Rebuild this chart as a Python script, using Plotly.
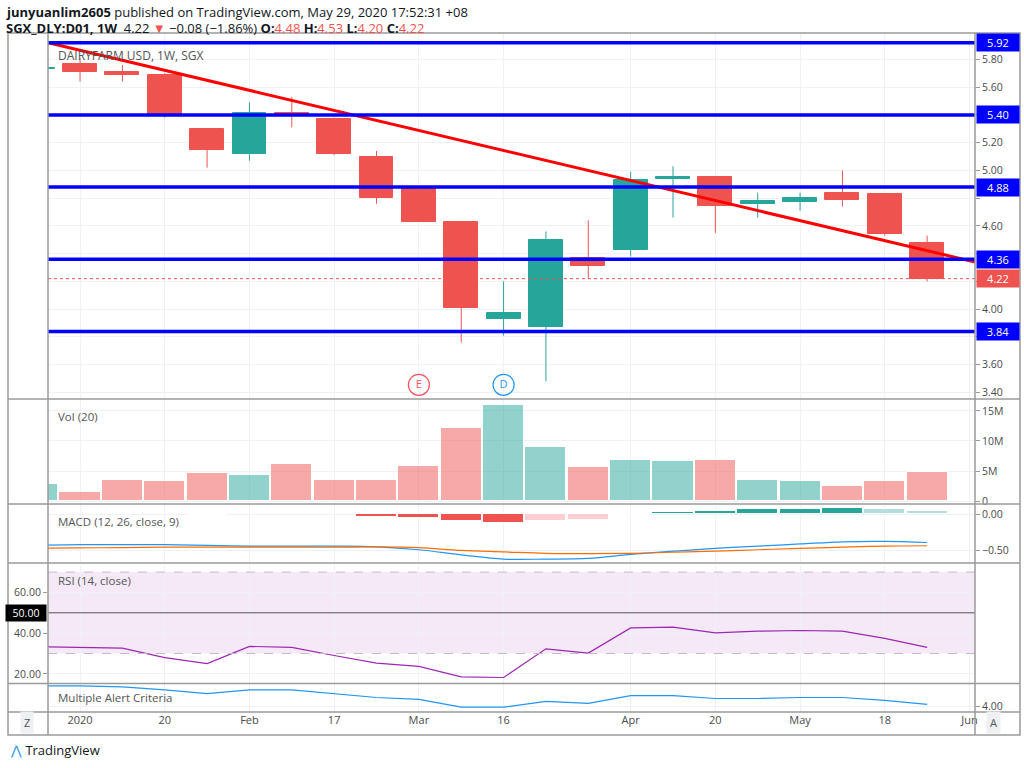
import plotly.graph_objects as go

# ---------------- data ----------------
idx = list(range(22))
opens  = [5.73,5.77,5.71,5.69,5.30,5.12,5.41,5.37,5.10,4.88,4.63,3.93,3.87,4.37,4.43,4.94,4.95,4.76,4.77,4.84,4.83,4.48]
highs  = [5.74,5.81,5.76,5.70,5.30,5.49,5.53,5.38,5.14,4.88,4.63,4.20,4.56,4.64,4.99,5.03,4.95,4.84,4.84,5.00,4.83,4.53]
lows   = [5.73,5.64,5.64,5.38,5.02,5.07,5.31,5.11,4.76,4.63,3.76,3.81,3.48,4.22,4.38,4.66,4.55,4.66,4.71,4.74,4.53,4.20]
closes = [5.74,5.71,5.69,5.40,5.15,5.41,5.40,5.12,4.80,4.63,4.01,3.97,4.50,4.31,4.93,4.95,4.74,4.78,4.80,4.79,4.54,4.22]
volume = [2.9,1.6,3.6,3.3,4.7,4.3,6.2,3.6,3.6,5.9,12.2,15.9,9.0,5.7,6.9,6.7,6.9,3.6,3.3,2.6,3.3,4.8]  # millions
macd_hist = [0.012,0.01,0.02,0.005,-0.01,0.01,0.01,0.005,-0.03,-0.05,-0.095,-0.12,-0.09,-0.08,-0.01,0.036,0.05,0.068,0.08,0.085,0.07,0.04]
macd_line = [-0.43,-0.42,-0.42,-0.42,-0.43,-0.44,-0.44,-0.44,-0.45,-0.49,-0.56,-0.62,-0.62,-0.61,-0.555,-0.51,-0.47,-0.44,-0.41,-0.38,-0.375,-0.39]
signal_line = [-0.47,-0.465,-0.46,-0.455,-0.455,-0.455,-0.455,-0.455,-0.45,-0.46,-0.50,-0.52,-0.54,-0.545,-0.54,-0.525,-0.51,-0.49,-0.47,-0.455,-0.44,-0.435]
rsi = [33.4,33.0,32.6,28.0,25.0,33.5,33.0,29.0,25.3,23.7,18.5,18.2,32.3,30.2,42.6,43.0,40.1,41.0,41.3,41.0,37.4,33.0]
alert = [6.1,6.1,6.0,5.7,5.3,5.7,5.7,5.3,4.9,4.7,3.9,3.9,4.5,4.3,5.1,5.1,4.8,4.8,4.9,4.9,4.6,4.2]
support_levels = [5.92,5.40,4.88,4.36,3.84]
last_price = 4.22
trend_x = [0.244, 22.13]
trend_y = [5.92, 4.34]
tick_pos = [1,3,5,7,9,11,14,16,18,20,22]
tick_text = ["2020","20","Feb","17","Mar","16","Apr","20","May","18","Jun"]
price_ticks = [3.40,3.60,3.80,4.00,4.20,4.40,4.60,4.80,5.00,5.20,5.40,5.60,5.80]
event_x = [9, 11]
event_y = [3.455, 3.455]
event_text = ["E", "D"]

UP, DN = "#26a69a", "#ef5350"
GRID = "#eef1f6"
W, H = 1024, 768
L, R, T, B = 48, 975, 33, 712
def px(x): return (x - L) / (R - L)
def py(y): return (B - y) / (B - T)

fig = go.Figure()
cols = [UP if c >= o else DN for o, c in zip(opens, closes)]

wx, wy, wxd, wyd = [], [], [], []
for i, o, h, l, c in zip(idx, opens, highs, lows, closes):
    if c >= o:
        wx += [i, i, None]; wy += [l, h, None]
    else:
        wxd += [i, i, None]; wyd += [l, h, None]
fig.add_trace(go.Scatter(x=wx, y=wy, mode="lines", line=dict(color=UP, width=1), xaxis="x", yaxis="y", hoverinfo="skip"))
fig.add_trace(go.Scatter(x=wxd, y=wyd, mode="lines", line=dict(color=DN, width=1), xaxis="x", yaxis="y", hoverinfo="skip"))
fig.add_trace(go.Bar(x=idx, base=opens, y=[c - o for o, c in zip(opens, closes)], width=0.8,
                     marker=dict(color=cols, line=dict(color=cols, width=1)), xaxis="x", yaxis="y"))
fig.add_trace(go.Scatter(x=trend_x, y=trend_y, mode="lines", line=dict(color="#ff0000", width=3), xaxis="x", yaxis="y"))
fig.add_trace(go.Scatter(x=event_x, y=event_y, mode="markers+text", text=event_text,
                         marker=dict(symbol="circle-open", size=21, color=["#f7525f", "#2196f3"], line=dict(width=1.2)),
                         textfont=dict(color=["#f7525f", "#2196f3"], size=11), textposition="middle center",
                         xaxis="x", yaxis="y"))
vcols = ["rgba(38,166,154,0.5)" if c >= o else "rgba(239,83,80,0.5)" for o, c in zip(opens, closes)]
fig.add_trace(go.Bar(x=idx, y=volume, width=0.97, marker=dict(color=vcols, line=dict(color="white", width=1)),
                     xaxis="x2", yaxis="y2"))
hcols = []
for i, v in enumerate(macd_hist):
    prev = macd_hist[i - 1] if i > 0 else v
    if v >= 0:
        hcols.append("#26a69a" if v >= prev else "#b2dfdb")
    else:
        hcols.append("#ef5350" if v <= prev else "#ffcdd2")
fig.add_trace(go.Bar(x=idx, y=macd_hist, width=0.97, marker=dict(color=hcols, line=dict(color="white", width=1)),
                     xaxis="x3", yaxis="y3"))
fig.add_trace(go.Scatter(x=idx, y=macd_line, mode="lines", line=dict(color="#2196f3", width=1.2, shape="spline"), xaxis="x3", yaxis="y3"))
fig.add_trace(go.Scatter(x=idx, y=signal_line, mode="lines", line=dict(color="#ff6d00", width=1.2, shape="spline"), xaxis="x3", yaxis="y3"))
fig.add_trace(go.Scatter(x=idx, y=rsi, mode="lines", line=dict(color="#9c27b0", width=1.2), xaxis="x4", yaxis="y4"))
fig.add_trace(go.Scatter(x=idx, y=alert, mode="lines", line=dict(color="#2196f3", width=1.2), xaxis="x5", yaxis="y5"))

xr = [0.244, 22.13]
def xa(anchor, show=False):
    d = dict(domain=[0, 1], range=xr, anchor=anchor, showgrid=True, gridcolor=GRID,
             tickvals=tick_pos, ticktext=tick_text, showticklabels=show, zeroline=False,
             showline=False, fixedrange=True)
    if anchor != "y5":
        d["matches"] = "x5"
    return d

covered = set(support_levels + [last_price])
price_text = ["" if any(abs(p - c) < 0.09 for c in covered) else f"{p:.2f}" for p in price_ticks]

tickfont = dict(family="Open Sans", size=10.5, color="#4a4a4a")
lay = dict(
    width=W, height=H, plot_bgcolor="white", paper_bgcolor="white", showlegend=False, bargap=0,
    margin=dict(l=L, r=W - R, t=T, b=H - B, autoexpand=False),
    xaxis=xa("y"), xaxis2=xa("y2"), xaxis3=xa("y3"), xaxis4=xa("y4"),
    xaxis5=dict(xa("y5", True), tickfont=dict(family="Open Sans", size=11, color="#4a4a4a"), ticklen=0),
    yaxis=dict(domain=[py(398), 1], range=[3.36, 5.99], side="right", tickvals=price_ticks,
               ticktext=price_text, ticks="outside", ticklen=4, tickcolor="#999", gridcolor=GRID,
               tickfont=tickfont, zeroline=False, anchor="x"),
    yaxis2=dict(domain=[py(503), py(400)], range=[-0.3, 16.8], side="right", tickvals=[0, 5, 10, 15],
                ticktext=["0", "5M", "10M", "15M"], ticks="outside", ticklen=4, tickcolor="#999",
                gridcolor=GRID, tickfont=tickfont, zeroline=False, anchor="x2"),
    yaxis3=dict(domain=[py(562), py(505)], range=[-0.66, 0.13], side="right", tickvals=[0, -0.5],
                ticktext=["0.00", "−0.50"], ticks="outside", ticklen=4, tickcolor="#999",
                gridcolor=GRID, tickfont=tickfont, zeroline=False, anchor="x3"),
    yaxis4=dict(domain=[py(683), py(565)], range=[15.5, 73.5], side="left", tickvals=[20, 40, 60],
                tickformat=".2f", ticks="outside", ticklen=4, tickcolor="#999",
                gridcolor=GRID, tickfont=tickfont, zeroline=False, anchor="x4"),
    yaxis5=dict(domain=[0, py(684)], range=[3.4, 6.3], side="right", tickvals=[4], tickformat=".2f",
                ticks="outside", ticklen=4, tickcolor="#999", gridcolor=GRID, tickfont=tickfont,
                zeroline=False, anchor="x5"),
)
fig.update_layout(**lay)

shapes = []
shapes.append(dict(type="rect", xref="x4", yref="y4", x0=xr[0], x1=xr[1], y0=30, y1=70,
                   fillcolor="rgba(156,39,176,0.10)", line=dict(width=0), layer="below"))
for lv in [30, 70]:
    shapes.append(dict(type="line", xref="x4", yref="y4", x0=xr[0], x1=xr[1], y0=lv, y1=lv,
                       line=dict(color="#c8b8cc", width=1, dash="dash")))
shapes.append(dict(type="line", xref="x4", yref="y4", x0=xr[0], x1=xr[1], y0=50, y1=50,
                   line=dict(color="#555", width=1)))
for lv in support_levels:
    shapes.append(dict(type="line", xref="paper", yref="y", x0=0, x1=1, y0=lv, y1=lv,
                       line=dict(color="#0000ff", width=3.5)))
shapes.append(dict(type="line", xref="paper", yref="y", x0=0, x1=1, y0=last_price, y1=last_price,
                   line=dict(color="#ef5350", width=1, dash="dot")))
for yy in [399, 504, 563, 683.5]:
    shapes.append(dict(type="line", xref="paper", yref="paper", x0=px(8), x1=px(1020), y0=py(yy), y1=py(yy),
                       line=dict(color="#9a9a9a", width=1.5)))
shapes.append(dict(type="rect", xref="paper", yref="paper", x0=px(8), x1=px(1020), y0=py(735), y1=py(33),
                   line=dict(color="#9a9a9a", width=1.5)))
shapes.append(dict(type="line", xref="paper", yref="paper", x0=px(8), x1=px(1020), y0=py(712), y1=py(712),
                   line=dict(color="#9a9a9a", width=1.5)))
for xx in [L, R]:
    shapes.append(dict(type="line", xref="paper", yref="paper", x0=px(xx), x1=px(xx), y0=py(735), y1=py(33),
                       line=dict(color="#9a9a9a", width=1.5)))
fig.update_layout(shapes=shapes)

ann = []
def txt(x, y, s, size=12, color="#555", xanchor="left", **kw):
    ann.append(dict(x=px(x), y=py(y), xref="paper", yref="paper", text=s, showarrow=False,
                    xanchor=xanchor, yanchor="middle", font=dict(family="Open Sans", size=size, color=color), **kw))
red = "#ef5350"
txt(4, 12, "<b>junyuanlim2605</b> published on TradingView.com, May 29, 2020 17:52:31 +08", 13, "#131722")
txt(4, 28, f"<b>SGX_DLY:D01, 1W</b>  4.22 <span style='color:{red}'>▼</span> −0.08 (−1.86%) "
           f"<b>O:</b><span style='color:{red}'>4.48</span> <b>H:</b><span style='color:{red}'>4.53</span> "
           f"<b>L:</b><span style='color:{red}'>4.20</span> <b>C:</b><span style='color:{red}'>4.22</span>", 13, "#131722")
txt(56, 55, "DAIRYFARM USD, 1W, SGX", 12, "#555")
txt(56, 416, "Vol (20)", 11.5, "#555")
txt(56, 521, "MACD (12, 26, close, 9)", 11.5, "#555")
txt(56, 580, "RSI (14, close)", 11.5, "#555")
txt(56, 697, "Multiple Alert Criteria", 11.5, "#555")
for lv in support_levels:
    ann.append(dict(x=1, y=lv, xref="paper", yref="y", text=f"{lv:.2f}", showarrow=False, xanchor="left",
                    xshift=1, bgcolor="#0000ff", width=40, height=15, align="center",
                    font=dict(family="Open Sans", size=11, color="white")))
ann.append(dict(x=1, y=last_price, xref="paper", yref="y", text=f"{last_price:.2f}", showarrow=False,
                xanchor="left", xshift=1, bgcolor=red, width=40, height=15,
                font=dict(family="Open Sans", size=11, color="white")))
ann.append(dict(x=0, y=50, xref="paper", yref="y4", text="50.00", showarrow=False, xanchor="right",
                xshift=-1, bgcolor="#000", width=38, height=14,
                font=dict(family="Open Sans", size=10.5, color="white")))
txt(27, 722, "Z", 11, "#555", xanchor="center", bgcolor="#eef0f4", borderpad=3)
txt(993, 722, "A", 11, "#555", xanchor="center", bgcolor="#eef0f4", borderpad=3)
txt(8, 750, "<span style='color:#2196f3'>⋀</span> TradingView", 13, "#131722")
fig.update_layout(annotations=ann)

fig.write_html("out.html", config={"displayModeBar": False},
               post_script="document.body.style.margin='0';document.body.style.overflow='hidden';")
